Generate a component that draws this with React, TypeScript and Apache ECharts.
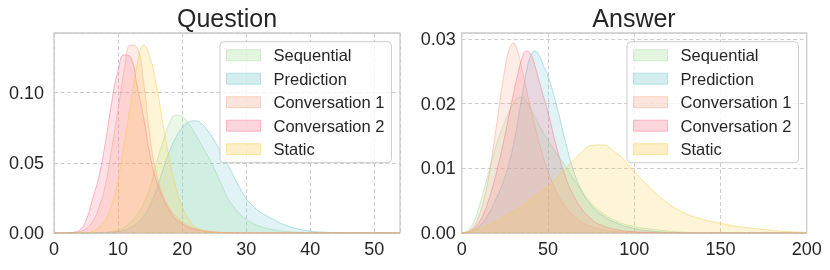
import React, { useEffect, useRef } from "react";
import * as echarts from "echarts";

// ---------- data ----------
const seriesNames = ["Sequential", "Prediction", "Conversation 1", "Conversation 2", "Static"];
const baseColors = [
  [162, 222, 152],
  [112, 198, 205],
  [248, 165, 138],
  [248, 115, 142],
  [248, 205, 72],
];

// Question panel (x = tokens, y = density)
const qX = [0, 1, 2, 3, 4, 5, 6, 7, 8, 9, 10, 11, 12, 13, 14, 15, 16, 17, 18, 19, 20, 21, 22, 23, 24, 25, 26, 27, 28, 29, 30, 31, 32, 33, 34, 35, 36, 38, 40, 42, 45, 50, 54];
const qSequential = [0, 0, 0, 0, 0, 0, 0.0001, 0.0002, 0.0005, 0.001, 0.002, 0.004, 0.008, 0.013, 0.021, 0.033, 0.05, 0.065, 0.078, 0.084, 0.083, 0.078, 0.071, 0.063, 0.055, 0.046, 0.036, 0.026, 0.019, 0.0135, 0.0098, 0.007, 0.005, 0.0035, 0.0025, 0.0017, 0.0011, 0.0005, 0.0002, 0.0001, 0, 0, 0];
const qPrediction = [0, 0, 0, 0, 0, 0, 0, 0, 0.0002, 0.0005, 0.001, 0.002, 0.004, 0.007, 0.012, 0.02, 0.031, 0.045, 0.058, 0.068, 0.075, 0.079, 0.08, 0.078, 0.073, 0.066, 0.058, 0.05, 0.041, 0.032, 0.0245, 0.0195, 0.0155, 0.0127, 0.0102, 0.0078, 0.0058, 0.003, 0.0013, 0.0006, 0.0002, 0, 0];
const qConversation1 = [0, 0, 0, 0, 0.001, 0.003, 0.008, 0.018, 0.034, 0.06, 0.088, 0.117, 0.134, 0.132, 0.107, 0.068, 0.042, 0.027, 0.018, 0.012, 0.008, 0.005, 0.0033, 0.0022, 0.0014, 0.0009, 0.0005, 0.0003, 0.0002, 0.0001, 0, 0, 0, 0, 0, 0, 0, 0, 0, 0, 0, 0, 0];
const qConversation2 = [0, 0, 0, 0.0005, 0.002, 0.009, 0.024, 0.04, 0.064, 0.093, 0.116, 0.127, 0.125, 0.104, 0.082, 0.055, 0.037, 0.025, 0.016, 0.01, 0.0065, 0.004, 0.0025, 0.0015, 0.0009, 0.0005, 0.0003, 0.0001, 0, 0, 0, 0, 0, 0, 0, 0, 0, 0, 0, 0, 0, 0, 0];
const qStatic = [0, 0, 0, 0, 0, 0, 0.001, 0.004, 0.009, 0.02, 0.038, 0.065, 0.093, 0.121, 0.134, 0.125, 0.105, 0.078, 0.053, 0.033, 0.019, 0.01, 0.0045, 0.002, 0.001, 0.0005, 0.0002, 0.0001, 0, 0, 0, 0, 0, 0, 0, 0, 0, 0, 0, 0, 0, 0, 0];

// Answer panel
const aX = [0, 2.5, 5, 7.5, 10, 12.5, 15, 17.5, 20, 22.5, 25, 27.5, 30, 32.5, 35, 37.5, 40, 42.5, 45, 47.5, 50, 55, 60, 65, 70, 75, 80, 90, 100, 110, 120, 130, 140, 150, 160, 170, 180, 190, 200];
const aSequential = [0, 0.0002, 0.0008, 0.002, 0.004, 0.0063, 0.0088, 0.0112, 0.0135, 0.0155, 0.0172, 0.0188, 0.0201, 0.0209, 0.021, 0.0203, 0.0192, 0.0179, 0.0166, 0.0154, 0.0143, 0.0123, 0.0104, 0.0083, 0.0063, 0.0046, 0.0034, 0.0018, 0.001, 0.0006, 0.0003, 0.0001, 0, 0, 0, 0, 0, 0, 0];
const aPrediction = [0, 0, 0.0002, 0.0005, 0.001, 0.0017, 0.0027, 0.0039, 0.0053, 0.0068, 0.0086, 0.0108, 0.0136, 0.0172, 0.0212, 0.0249, 0.0274, 0.0281, 0.0274, 0.0258, 0.0243, 0.0197, 0.0143, 0.0095, 0.0063, 0.0043, 0.003, 0.0015, 0.0007, 0.0003, 0.0001, 0, 0, 0, 0, 0, 0, 0, 0];
const aConversation1 = [0, 0.0001, 0.0005, 0.0012, 0.0027, 0.0048, 0.0078, 0.0118, 0.0163, 0.021, 0.0253, 0.0284, 0.0293, 0.028, 0.0252, 0.0222, 0.0192, 0.0164, 0.0138, 0.0115, 0.0095, 0.0063, 0.0041, 0.0026, 0.0016, 0.001, 0.0006, 0.0002, 0.0001, 0, 0, 0, 0, 0, 0, 0, 0, 0, 0];
const aConversation2 = [0, 0, 0.0003, 0.0008, 0.0016, 0.0028, 0.0046, 0.0067, 0.0092, 0.012, 0.015, 0.0183, 0.0215, 0.0245, 0.027, 0.0281, 0.0276, 0.0258, 0.0234, 0.021, 0.0187, 0.0133, 0.0088, 0.0057, 0.0036, 0.0022, 0.0013, 0.0005, 0.0002, 0.0001, 0, 0, 0, 0, 0, 0, 0, 0, 0];
const aStatic = [0, 0.0001, 0.0002, 0.0004, 0.0006, 0.0009, 0.0012, 0.0015, 0.0018, 0.0022, 0.0026, 0.003, 0.0034, 0.0038, 0.0043, 0.0047, 0.0052, 0.0057, 0.0062, 0.0067, 0.0072, 0.0085, 0.0099, 0.0113, 0.0126, 0.0135, 0.0136, 0.0123, 0.0095, 0.0068, 0.0045, 0.003, 0.0021, 0.0015, 0.001, 0.0007, 0.0004, 0.0002, 0.0001];

const titles = ["Question", "Answer"];

// ---------- helpers ----------
const rgba = (c: number[], a: number) => `rgba(${c[0]},${c[1]},${c[2]},${a})`;
const FONT = "'Liberation Sans', Arial, Helvetica, sans-serif";
const TEXT = "#262626";
const GRIDLINE = "#cccccc";

export default function App() {
  const ref = useRef<HTMLDivElement>(null);

  useEffect(() => {
    if (!ref.current) return;
    const chart = echarts.init(ref.current, undefined, { renderer: "svg" });

    const qSets = [qSequential, qPrediction, qConversation1, qConversation2, qStatic];
    const aSets = [aSequential, aPrediction, aConversation1, aConversation2, aStatic];

    const makeSeries = (xs: number[], sets: number[][], idx: number) =>
      sets.map((ys, i) => ({
        type: "line",
        name: seriesNames[i],
        xAxisIndex: idx,
        yAxisIndex: idx,
        data: xs.map((x, k) => [x, ys[k]]),
        smooth: 0.5,
        showSymbol: false,
        symbol: "none",
        silent: true,
        z: 2 + i,
        itemStyle: { color: rgba(baseColors[i], 1) },
        lineStyle: { color: rgba(baseColors[i], 0.5), width: 1 },
        areaStyle: { color: rgba(baseColors[i], 0.3), origin: "start" },
      }));

    const legendData = seriesNames.map((n, i) => ({
      name: n,
      itemStyle: {
        color: rgba(baseColors[i], 0.3),
        borderColor: rgba(baseColors[i], 0.45),
        borderWidth: 1,
      },
    }));

    const legendCommon = {
      orient: "vertical",
      top: 41.7,
      padding: [5, 7, 5, 6],
      itemGap: 6.5,
      itemWidth: 34,
      itemHeight: 11,
      icon: "rect",
      backgroundColor: "rgba(255,255,255,0.8)",
      borderColor: "#cccccc",
      borderWidth: 1,
      borderRadius: 4,
      selectedMode: false,
      textStyle: { fontSize: 16.5, color: TEXT, fontFamily: FONT, padding: [0, 0, 0, 8], lineHeight: 17 },
      data: legendData,
      z: 10,
    };

    const axisLabel = { fontSize: 18, color: TEXT, fontFamily: FONT };
    const splitLine = { show: true, lineStyle: { color: GRIDLINE, width: 1, type: [4, 2.5] } };

    chart.setOption({
      animation: false,
      grid: [
        { left: 54, top: 33, width: 346, height: 200, show: true, borderColor: "#cccccc", borderWidth: 1.3, backgroundColor: "transparent" },
        { left: 461.7, top: 33, width: 345, height: 200, show: true, borderColor: "#cccccc", borderWidth: 1.3, backgroundColor: "transparent" },
      ],
      xAxis: [
        {
          gridIndex: 0, type: "value", min: 0, max: 54, interval: 10,
          axisLine: { show: false }, axisTick: { show: false },
          axisLabel: { ...axisLabel, margin: 7, showMaxLabel: false },
          splitLine,
        },
        {
          gridIndex: 1, type: "value", min: 0, max: 200, interval: 50,
          axisLine: { show: false }, axisTick: { show: false },
          axisLabel: { ...axisLabel, margin: 7 },
          splitLine,
        },
      ],
      yAxis: [
        {
          gridIndex: 0, type: "value", min: 0, max: 0.1426, interval: 0.05,
          axisLine: { show: false }, axisTick: { show: false },
          axisLabel: { ...axisLabel, margin: 10, showMaxLabel: false, formatter: (v: number) => v.toFixed(2) },
          splitLine,
        },
        {
          gridIndex: 1, type: "value", min: 0, max: 0.0309, interval: 0.01,
          axisLine: { show: false }, axisTick: { show: false },
          axisLabel: { ...axisLabel, margin: 6, showMaxLabel: false, formatter: (v: number) => v.toFixed(2) },
          splitLine,
        },
      ],
      legend: [
        { ...legendCommon, left: 220 },
        { ...legendCommon, left: 627 },
      ],
      graphic: [
        { type: "text", x: 227, y: 18, style: { text: titles[0], fontSize: 25, fill: TEXT, fontFamily: FONT, align: "center", verticalAlign: "middle" } },
        { type: "text", x: 634, y: 18, style: { text: titles[1], fontSize: 25, fill: TEXT, fontFamily: FONT, align: "center", verticalAlign: "middle" } },
      ],
      series: [...makeSeries(qX, qSets, 0), ...makeSeries(aX, aSets, 1)],
    });

    return () => chart.dispose();
  }, []);

  return <div ref={ref} style={{ position: "fixed", left: 0, top: 0, width: 830, height: 270 }} />;
}
